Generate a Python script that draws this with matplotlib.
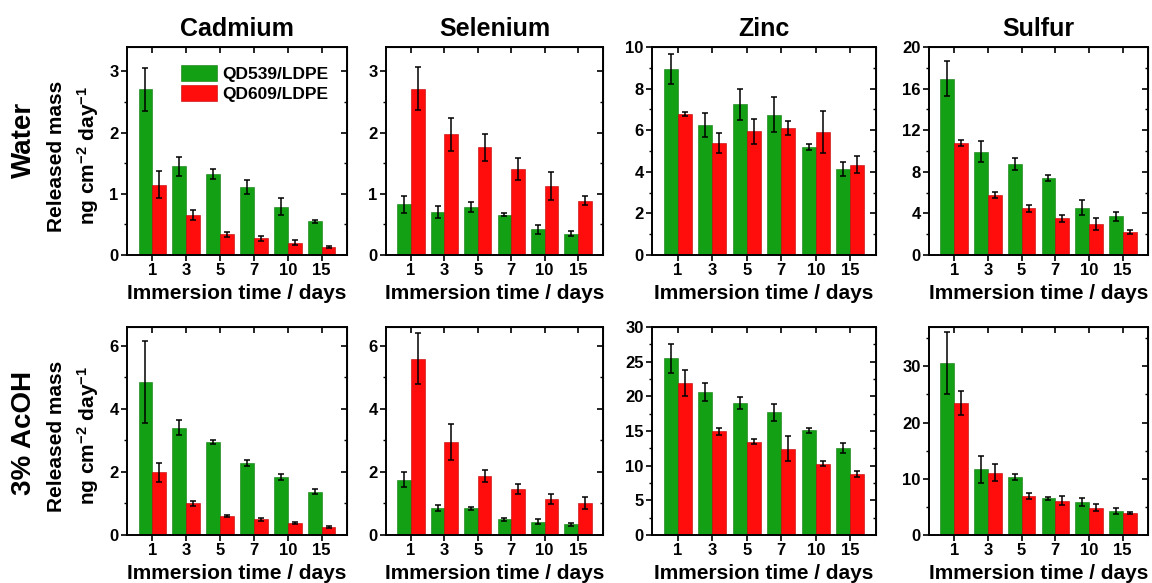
import numpy as np
import matplotlib
matplotlib.use("Agg")
from matplotlib import pyplot as plt
from matplotlib.patches import Patch
from matplotlib.ticker import MultipleLocator

plt.rcParams['font.family'] = ['Liberation Sans', 'DejaVu Sans']
plt.rcParams['font.weight'] = 'bold'
plt.rcParams['mathtext.fontset'] = 'custom'
plt.rcParams['mathtext.rm'] = 'Liberation Sans:bold'
plt.rcParams['mathtext.bf'] = 'Liberation Sans:bold'
plt.rcParams['mathtext.default'] = 'rm'

days = ['1', '3', '5', '7', '10', '15']
elements = ['Cadmium', 'Selenium', 'Zinc', 'Sulfur']
media = ['Water', '3% AcOH']

# water, QD539/LDPE (green) and QD609/LDPE (red): mean and error
cd_w_g = [2.71, 1.45, 1.33, 1.11, 0.79, 0.55]
cd_w_g_e = [0.35, 0.16, 0.08, 0.11, 0.14, 0.02]
cd_w_r = [1.15, 0.65, 0.34, 0.27, 0.20, 0.13]
cd_w_r_e = [0.22, 0.08, 0.04, 0.04, 0.04, 0.01]

se_w_g = [0.83, 0.70, 0.78, 0.66, 0.42, 0.35]
se_w_g_e = [0.14, 0.10, 0.08, 0.02, 0.07, 0.04]
se_w_r = [2.72, 1.97, 1.76, 1.41, 1.13, 0.89]
se_w_r_e = [0.35, 0.27, 0.22, 0.18, 0.23, 0.07]

zn_w_g = [8.96, 6.25, 7.24, 6.74, 5.18, 4.14]
zn_w_g_e = [0.72, 0.60, 0.76, 0.84, 0.15, 0.35]
zn_w_r = [6.77, 5.39, 5.94, 6.10, 5.91, 4.35]
zn_w_r_e = [0.10, 0.48, 0.58, 0.32, 1.00, 0.41]

s_w_g = [16.96, 9.92, 8.74, 7.42, 4.54, 3.71]
s_w_g_e = [1.65, 1.00, 0.60, 0.30, 0.72, 0.45]
s_w_r = [10.8, 5.76, 4.48, 3.52, 2.98, 2.24]
s_w_r_e = [0.30, 0.30, 0.35, 0.30, 0.55, 0.20]

# 3% acetic acid
cd_a_g = [4.86, 3.40, 2.95, 2.29, 1.84, 1.38]
cd_a_g_e = [1.30, 0.24, 0.07, 0.10, 0.08, 0.09]
cd_a_r = [1.99, 1.01, 0.61, 0.50, 0.37, 0.25]
cd_a_r_e = [0.30, 0.08, 0.03, 0.04, 0.03, 0.02]

se_a_g = [1.75, 0.85, 0.85, 0.50, 0.42, 0.34]
se_a_g_e = [0.24, 0.10, 0.05, 0.05, 0.08, 0.05]
se_a_r = [5.59, 2.95, 1.88, 1.46, 1.14, 1.03]
se_a_r_e = [0.81, 0.58, 0.19, 0.17, 0.17, 0.19]

zn_a_g = [25.47, 20.6, 19.07, 17.67, 15.12, 12.52]
zn_a_g_e = [2.05, 1.30, 0.85, 1.20, 0.35, 0.70]
zn_a_r = [21.95, 14.93, 13.48, 12.47, 10.30, 8.81]
zn_a_r_e = [1.90, 0.55, 0.40, 1.80, 0.35, 0.40]

s_a_g = [30.54, 11.7, 10.34, 6.54, 5.82, 4.28]
s_a_g_e = [5.50, 2.40, 0.50, 0.30, 0.70, 0.50]
s_a_r = [23.53, 11.1, 6.95, 6.06, 4.87, 3.86]
s_a_r_e = [2.10, 1.50, 0.60, 0.80, 0.60, 0.20]

panels = [
    [(cd_w_g, cd_w_g_e, cd_w_r, cd_w_r_e), (se_w_g, se_w_g_e, se_w_r, se_w_r_e),
     (zn_w_g, zn_w_g_e, zn_w_r, zn_w_r_e), (s_w_g, s_w_g_e, s_w_r, s_w_r_e)],
    [(cd_a_g, cd_a_g_e, cd_a_r, cd_a_r_e), (se_a_g, se_a_g_e, se_a_r, se_a_r_e),
     (zn_a_g, zn_a_g_e, zn_a_r, zn_a_r_e), (s_a_g, s_a_g_e, s_a_r, s_a_r_e)],
]

ylims = [[3.4, 3.4, 10, 20], [6.6, 6.6, 30, 37]]
majors = [[1, 1, 2, 4], [2, 2, 5, 10]]

green = '#14a014'
red = '#ff0d0d'

W, H = 1152, 583
fig = plt.figure(figsize=(W / 100, H / 100), dpi=100)

lefts = [127, 386, 652, 929]
widths = [220, 217, 224, 219]
tops = [47, 327]
ah = 208

x = np.arange(len(days))
bw = 0.41
ekw = dict(ecolor='k', elinewidth=1.1, capsize=2.2, capthick=1.1)

for r in range(2):
    for c in range(4):
        ax = fig.add_axes([lefts[c] / W, (H - tops[r] - ah) / H, widths[c] / W, ah / H])
        g, ge, rd, re = panels[r][c]
        ax.bar(x - bw / 2, g, bw, color=green, edgecolor='#0e7a0e', linewidth=0.4,
               yerr=ge, error_kw=ekw)
        ax.bar(x + bw / 2, rd, bw, color=red, edgecolor='#c00000', linewidth=0.4,
               yerr=re, error_kw=ekw)
        ax.set_xlim(-0.75, len(days) - 0.25)
        ax.set_ylim(0, ylims[r][c])
        ax.set_xticks(x)
        ax.set_xticklabels(days)
        ax.yaxis.set_major_locator(MultipleLocator(majors[r][c]))
        ax.yaxis.set_minor_locator(MultipleLocator(majors[r][c] / 2))
        ax.tick_params(axis='both', which='major', labelsize=12, length=4, width=1.2,
                       pad=2, direction='out')
        ax.tick_params(axis='y', which='minor', length=2.5, width=1.0, direction='out')
        for lab in ax.get_xticklabels() + ax.get_yticklabels():
            lab.set_fontweight('bold')
        for sp in ax.spines.values():
            sp.set_linewidth(1.4)

        # mirrored ticks pointing inward on top and right
        top = ax.secondary_xaxis('top')
        top.set_xticks(x)
        top.tick_params(direction='in', length=4, width=1.2, labeltop=False)
        rgt = ax.secondary_yaxis('right')
        rgt.yaxis.set_major_locator(MultipleLocator(majors[r][c]))
        rgt.yaxis.set_minor_locator(MultipleLocator(majors[r][c] / 2))
        rgt.tick_params(which='major', direction='in', length=4, width=1.2, labelright=False)
        rgt.tick_params(which='minor', direction='in', length=2.5, width=1.0)

        ax.set_xlabel('Immersion time / days', fontsize=15, fontweight='bold', labelpad=4)
        if r == 0:
            ax.set_title(elements[c], fontsize=18, fontweight='bold', pad=8)
        if r == 0 and c == 0:
            handles = [Patch(facecolor=green, edgecolor='#0e7a0e', lw=0.4),
                       Patch(facecolor=red, edgecolor='#c00000', lw=0.4)]
            ax.legend(handles, ['QD539/LDPE', 'QD609/LDPE'], loc='upper left',
                      bbox_to_anchor=(0.245, 0.915), frameon=False,
                      handlelength=2.1, handleheight=1.05, handletextpad=0.3,
                      labelspacing=0.2, borderaxespad=0, borderpad=0,
                      prop={'weight': 'bold', 'size': 12.5})
        if c == 0:
            yc = 1 - (tops[r] + ah / 2) / H
            yrow = yc + (11 / H if r == 0 else -2 / H)
            fig.text(24 / W, yrow, media[r], rotation=90, ha='center', va='center',
                     fontsize=20, fontweight='bold')
            fig.text(57 / W, yc - 5 / H, 'Released mass', rotation=90, ha='center',
                     va='center', fontsize=15, fontweight='bold')
            fig.text(88 / W, yc - 5 / H, r'ng cm$^{-2}$ day$^{-1}$', rotation=90,
                     ha='center', va='center', fontsize=15, fontweight='bold')

fig.savefig('out.png', dpi=100)
